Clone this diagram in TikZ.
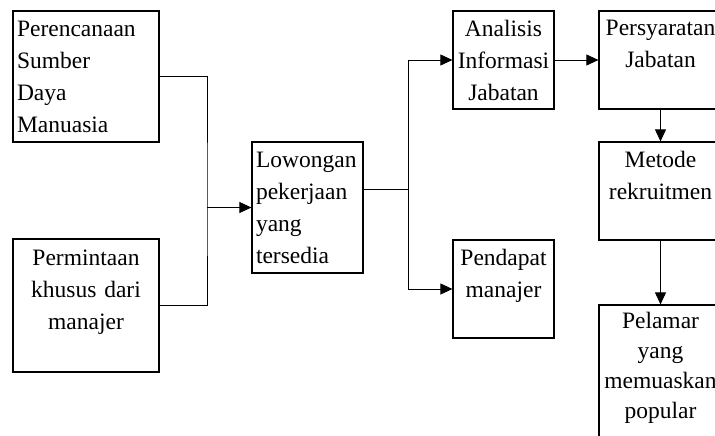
\documentclass[tikz,border=0pt]{standalone}
\usepackage{fontspec}
\setmainfont{Liberation Serif}
\usepackage{tikz}
\usetikzlibrary{arrows.meta, positioning, calc}

\begin{document}
\begin{tikzpicture}[
    x=1pt, y=-1pt,
    >={Triangle[length=12pt, width=11pt]},
    kotak/.style={draw, line width=1.2pt, inner xsep=4pt, inner ysep=0pt, font=\fontsize{23.5}{32}\selectfont},
    garis/.style={line width=0.8pt},
]
    \useasboundingbox (0,0) rectangle (715,436);
    \clip (0,0) rectangle (715,436);

    % kolom kiri
    \node[kotak, text width=138pt, minimum height=131pt, align=left] (perencanaan) at (86,76.5) {
        Perencanaan\\Sumber\\Daya\\Manuasia
    };
    \node[kotak, text width=138pt, minimum height=133pt, align=center] (permintaan) at (86,305.5) {
        Permintaan\\khusus dari\\manajer\\~
    };

    % tengah
    \node[kotak, text width=103pt, minimum height=131pt, align=left] (lowongan) at (307.5,207.5) {
        Lowongan\\pekerjaan\\yang\\tersedia
    };
    \node[kotak, text width=93pt, minimum height=98pt, align=center] (analisis) at (503.5,60) {
        Analisis\\Informasi\\Jabatan
    };
    \node[kotak, text width=93pt, minimum height=98pt, align=center] (pendapat) at (503.5,289) {
        Pendapat\\manajer\\~
    };

    % kolom kanan
    \node[kotak, text width=115pt, minimum height=98pt, align=center] (persyaratan) at (660.5,60) {
        Persyaratan\\Jabatan\\~
    };
    \node[kotak, text width=115pt, minimum height=98pt, align=center] (metode) at (660.5,191) {
        Metode\\rekruitmen\\~
    };
    \node[kotak, text width=115pt, minimum height=150pt, align=center,
          font=\fontsize{23.5}{30}\selectfont] (pelamar) at (660.5,380) {
        Pelamar\\yang\\memuaskan\\popular\\~
    };

    % penghubung
    \coordinate (sambung1) at (207,207.5);
    \coordinate (sambung2) at (408,189);
    \draw[garis] (perencanaan.east) -| (sambung1) |- (permintaan.east);
    \draw[garis, ->] (sambung1) -- (lowongan.west);
    \draw[garis] ([yshift=18.5pt]lowongan.east) -- (sambung2);
    \draw[garis, ->] (sambung2) |- (analisis.west);
    \draw[garis, ->] (sambung2) |- (pendapat.west);
    \draw[garis, ->] (analisis.east) -- (persyaratan.west);
    \draw[garis, ->] (persyaratan.south) -- (metode.north);
    \draw[garis, ->] (metode.south) -- (pelamar.north);
\end{tikzpicture}
\end{document}
